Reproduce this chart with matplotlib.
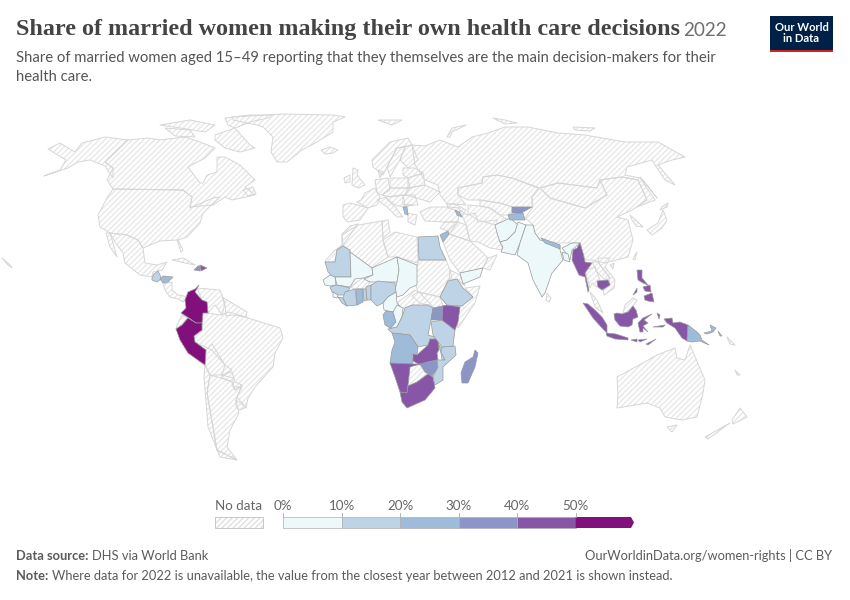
import matplotlib
matplotlib.use('Agg')
import matplotlib.pyplot as plt
from matplotlib.colors import BoundaryNorm, ListedColormap
from matplotlib.patches import Polygon, Rectangle

plt.rcParams['font.family'] = ['Lato', 'DejaVu Sans']
plt.rcParams['hatch.linewidth'] = 0.9

# legend
bin_edges = [0, 10, 20, 30, 40, 50, 60]
bin_labels = ['0%', '10%', '20%', '30%', '40%', '50%']
bin_colors = ['#edf8fb', '#bfd3e6', '#9ebcda', '#8c96c6', '#8856a7', '#810f7c']

# outlines traced from the map, in image pixels
# countries with a value
mauritania = [(325,262),(335,262),(337,250),(343,246),(350,250),(351,277),(333,277),(328,272)]
mali = [(350,252),(372,268),(373,275),(363,278),(355,279),(350,287),(337,285),(335,277),(351,277)]
niger = [(372,268),(397,257),(399,270),(397,282),(383,282),(370,282),(364,279),(373,275)]
chad = [(397,257),(417,265),(417,285),(410,288),(403,295),(397,297),(395,290),(397,282),(399,270)]
senegal = [(323,280),(330,275),(335,277),(336,285),(330,286),(325,285)]
guinea = [(330,287),(337,285),(350,288),(345,295),(338,295),(332,292)]
sierra_leone = [(333,292),(338,295),(337,298),(333,297)]
liberia = [(338,297),(343,298),(347,306),(342,303)]
ivory_coast = [(345,292),(355,289),(357,305),(347,306),(343,298)]
ghana = [(356,289),(363,289),(363,302),(357,305)]
togo = [(363,289),(366,289),(367,300),(364,301)]
benin = [(366,287),(371,285),(371,300),(367,300)]
nigeria = [(371,285),(378,281),(395,283),(396,292),(388,297),(383,303),(377,306),(371,300)]
cameroon = [(383,303),(388,297),(396,292),(397,303),(402,309),(393,312),(384,310)]
gabon = [(383,315),(386,311),(393,312),(396,322),(390,328),(385,325)]
congo = [(393,312),(397,305),(403,308),(402,317),(397,327),(390,329),(396,322)]
drc = [(405,308),(412,305),(428,305),(433,308),(431,320),(428,335),(438,338),(432,340),(428,345),(418,347),(410,335),(392,333),(388,329),(397,327),(402,317)]
angola = [(392,333),(410,335),(418,347),(417,355),(412,355),(413,364),(390,363),(392,350),(395,342)]
zambia = [(417,355),(428,345),(430,339),(438,339),(439,350),(437,353),(438,360),(428,362),(420,365),(413,361),(413,354)]
zimbabwe = [(420,364),(428,362),(437,360),(438,368),(432,376),(425,372)]
namibia = [(390,363),(413,364),(420,364),(410,367),(408,385),(407,393),(400,392),(395,377)]
south_africa = [(408,386),(417,382),(428,374),(433,377),(435,388),(425,400),(407,408),(402,402),(400,392),(407,393)]
malawi = [(438,343),(442,350),(445,360),(442,360),(441,353)]
mozambique = [(442,347),(455,346),(456,355),(443,367),(443,380),(435,385),(433,377),(438,367),(437,360),(445,360),(441,352)]
tanzania = [(431,322),(442,320),(455,330),(453,346),(442,347),(433,335)]
kenya = [(442,306),(447,305),(460,307),(458,322),(455,330),(442,320)]
uganda = [(433,308),(443,306),(442,320),(431,320)]
ethiopia = [(440,297),(448,281),(457,279),(463,288),(473,297),(462,306),(447,305)]
madagascar = [(475,350),(478,353),(475,367),(468,383),(462,383),(461,373),(465,362),(473,357)]
egypt = [(418,237),(438,236),(440,247),(446,260),(419,260)]
jordan = [(440,235),(448,231),(449,234),(443,242)]
armenia = [(455,210),(459,212),(462,217),(457,215)]
albania = [(403,207),(407,207),(408,215),(405,214)]
yemen = [(460,273),(483,268),(480,277),(463,284)]
afghanistan = [(495,225),(510,218),(518,225),(515,232),(507,240),(500,242),(497,233)]
pakistan = [(500,242),(507,240),(515,232),(518,222),(526,225),(520,243),(515,255),(501,252),(503,247)]
india = [(526,225),(533,225),(535,233),(540,240),(560,245),(560,250),(563,260),(552,273),(545,293),(542,297),(533,280),(528,263),(517,255),(520,243)]
india_east = [(562,248),(572,243),(580,243),(572,250),(570,260),(566,253)]
bangladesh = [(562,252),(568,254),(570,262),(564,260)]
nepal = [(541,238),(560,245),(560,249),(545,243)]
myanmar = [(580,243),(583,253),(585,262),(592,263),(585,273),(589,290),(588,292),(585,277),(579,275),(572,260),(573,250),(577,248)]
cambodia = [(597,281),(608,280),(610,285),(602,290),(598,287)]
kyrgyzstan = [(512,207),(532,207),(523,212),(522,213),(512,213)]
tajikistan = [(508,215),(513,214),(523,213),(525,220),(510,220)]
guatemala = [(152,278),(154,274),(158,271),(160,275),(161,279),(157,282),(152,280)]
honduras = [(160,279),(163,276),(173,277),(168,282),(163,283)]
haiti = [(194,270),(198,266),(200,266),(200,271)]
dominican = [(200,265),(207,268),(201,271)]
colombia = [(199,285),(195,289),(188,292),(185,300),(186,308),(181,313),(189,318),(196,323),(202,323),(203,313),(208,313),(207,302),(202,300),(195,292)]
peru = [(176,329),(182,325),(188,318),(196,323),(202,323),(202,330),(194,336),(195,342),(202,347),(206,350),(205,365),(202,363),(188,353),(180,340)]
sumatra = [(583,303),(588,304),(595,310),(602,317),(607,325),(607,333),(602,328),(593,318)]
java = [(606,333),(616,334),(628,338),(628,340),(615,339),(607,336)]
sunda_1 = [(631,340),(637,339),(637,342)]
sunda_2 = [(638,340),(647,339),(640,342)]
timor = [(646,344),(656,339),(648,345)]
borneo = [(614,314),(617,313),(622,314),(628,312),(633,306),(636,310),(638,317),(633,319),(632,325),(628,327),(620,326),(615,320)]
sulawesi = [(638,323),(643,318),(652,314),(644,320),(648,323),(643,326),(648,332),(643,328),(643,332),(640,332)]
maluku_1 = [(657,313),(660,315),(659,319)]
maluku_2 = [(653,327),(665,325),(663,327)]
papua = [(664,319),(672,318),(673,323),(680,322),(688,325),(687,341),(682,338),(675,328),(667,323)]
luzon = [(637,270),(642,270),(642,278),(648,285),(643,283),(638,280)]
visayas = [(643,287),(650,285),(651,292),(645,291)]
mindanao = [(644,296),(652,293),(654,302),(648,301),(645,300)]
palawan = [(633,295),(637,288),(637,292)]
png = [(688,325),(697,332),(700,335),(702,340),(709,345),(700,341),(692,342),(687,341)]
new_britain = [(704,333),(712,331),(710,325),(716,328),(713,332),(707,334)]
bougainville = [(718,331),(722,336),(720,336)]

share_shapes = [
    mauritania, mali, niger, chad, senegal, guinea, sierra_leone, liberia, ivory_coast, ghana,
    togo, benin, nigeria, cameroon, gabon, congo, drc, angola, zambia, zimbabwe, namibia,
    south_africa, malawi, mozambique, tanzania, kenya, uganda, ethiopia, madagascar, egypt,
    jordan, armenia, albania, yemen, afghanistan, pakistan, india, india_east, bangladesh,
    nepal, myanmar, cambodia, kyrgyzstan, tajikistan, guatemala, honduras, haiti, dominican,
    colombia, peru, sumatra, java, sunda_1, sunda_2, timor, borneo, sulawesi, maluku_1,
    maluku_2, papua, luzon, visayas, mindanao, palawan, png, new_britain, bougainville,
]
share_values = [
    14, 7, 6, 8, 8, 13, 9, 16, 15, 24,
    17, 14, 16, 9, 23, 8, 17, 25, 44, 33, 47,
    46, 18, 17, 16, 45, 35, 15, 36, 14,
    26, 28, 27, 6, 3, 7, 6, 6, 5,
    25, 48, 44, 36, 22, 15, 24, 34, 46,
    55, 56, 47, 47, 47, 47, 47, 47, 47, 47,
    47, 47, 44, 44, 44, 44, 25, 25, 25,
]

# countries without data
alaska = [(44,176),(60,170),(66,160),(61,157),(48,149),(60,143),(68,148),(75,152),(82,143),(105,137),(128,140),(105,162),(113,168),(113,178),(105,166),(90,160),(78,162),(68,168)]
canada = [(128,140),(148,138),(160,140),(185,137),(200,142),(215,148),(205,158),(188,167),(200,183),(203,183),(207,175),(217,172),(217,157),(225,157),(240,165),(255,180),(245,187),(255,195),(232,200),(225,197),(213,205),(190,207),(192,197),(183,190),(113,189),(107,180),(113,168),(105,162)]
baffin = [(215,135),(235,128),(250,145),(255,148),(240,152),(225,148),(215,140)]
ellesmere = [(225,118),(250,115),(272,115),(268,118),(250,122),(235,128),(228,125)]
victoria = [(165,128),(190,130),(195,137),(175,136)]
banks = [(160,125),(190,120),(215,125),(205,132),(180,128)]
newfoundland = [(243,190),(253,187),(256,194),(248,196)]
greenland = [(233,117),(283,114),(333,115),(345,117),(333,122),(333,132),(317,142),(302,150),(287,162),(277,162),(271,152),(273,137),(263,127),(257,125),(233,120)]
iceland = [(321,150),(330,147),(338,150),(333,153),(325,154)]
usa = [(113,189),(183,190),(192,197),(190,208),(213,198),(220,197),(203,213),(200,223),(187,237),(178,240),(183,250),(181,252),(177,240),(160,241),(143,248),(138,240),(127,235),(110,233),(100,227),(98,215),(107,198)]
mexico = [(110,233),(127,235),(138,240),(143,248),(145,263),(157,265),(167,262),(162,270),(153,272),(152,277),(140,275),(125,263),(123,253),(115,242)]
baja = [(106,233),(110,233),(117,257),(110,247)]
central_america = [(163,284),(172,282),(172,290),(178,295),(184,296),(187,298),(183,302),(178,299),(170,297),(165,290)]
cuba = [(172,260),(183,258),(195,265),(185,263)]
hawaii = [(2,258),(10,265),(12,268),(8,265)]
ecuador = [(177,325),(182,315),(188,318),(182,326),(176,329)]
venezuela = [(197,288),(220,290),(225,303),(222,315),(215,305),(208,313),(207,302),(202,300)]
guianas = [(222,297),(232,303),(247,312),(246,317),(232,315),(226,316),(225,305)]
brazil = [(208,313),(220,315),(230,312),(245,317),(248,318),(280,328),(283,338),(275,353),(273,367),(263,378),(255,387),(248,398),(246,408),(237,397),(242,387),(233,387),(233,378),(222,375),(225,365),(212,350),(205,347),(195,342),(194,336),(202,330),(203,313)]
bolivia = [(206,350),(212,344),(225,365),(232,370),(223,375),(210,375),(205,365)]
paraguay = [(222,375),(232,372),(235,382),(242,385),(235,390),(232,382),(222,378)]
chile = [(205,365),(210,375),(207,393),(217,450),(237,460),(220,457),(208,427),(204,377)]
argentina = [(210,375),(222,378),(232,382),(235,390),(242,385),(236,400),(239,413),(230,430),(227,447),(237,460),(217,450),(207,393)]
uruguay = [(236,400),(246,407),(240,410),(236,407)]
morocco = [(326,260),(334,251),(342,245),(342,234),(350,226),(358,224),(343,245),(337,250),(335,262),(325,262)]
algeria = [(343,245),(342,235),(358,225),(382,221),(383,240),(388,257),(372,268),(350,252)]
tunisia = [(382,221),(388,220),(390,232),(383,238)]
libya = [(383,240),(395,232),(417,237),(418,263),(397,257),(388,257)]
sudan = [(419,260),(446,260),(450,270),(452,278),(448,280),(440,297),(418,292),(415,283),(417,265)]
south_sudan = [(418,292),(440,297),(443,306),(433,308),(428,305),(420,303),(412,296)]
eritrea = [(450,270),(460,275),(465,286),(457,279),(449,280)]
somalia = [(465,288),(480,286),(475,303),(458,328),(457,321),(460,307),(473,297)]
burkina = [(350,287),(363,278),(370,282),(366,288),(355,289)]
car = [(398,302),(415,290),(420,293),(433,307),(412,305),(405,308),(400,311)]
botswana = [(410,366),(420,364),(425,372),(428,374),(417,382),(408,386)]
saudi = [(443,242),(449,234),(470,241),(480,250),(488,258),(483,268),(460,273),(450,260)]
oman = [(488,258),(497,255),(490,270),(483,268)]
syria = [(448,231),(440,228),(445,222),(458,222)]
iraq = [(449,234),(458,222),(466,225),(470,241)]
turkey = [(420,212),(430,207),(448,207),(460,208),(458,222),(445,222),(425,221)]
iran = [(460,210),(467,215),(475,213),(478,222),(497,220),(497,233),(500,242),(503,250),(490,248),(478,242),(470,241),(466,225)]
kazakhstan = [(458,188),(482,183),(483,177),(497,175),(512,178),(538,188),(532,197),(532,207),(512,207),(500,203),(480,200),(468,200),(458,195)]
uzbekistan = [(480,200),(500,203),(512,207),(512,213),(508,215),(500,215),(490,208),(480,206)]
turkmenistan = [(468,205),(480,206),(490,208),(500,215),(508,220),(495,225),(478,220),(468,214)]
caucasus = [(447,204),(455,204),(466,210),(462,216),(455,210),(448,208)]
mongolia = [(540,188),(558,183),(597,188),(600,180),(607,195),(585,208),(550,198)]
china = [(532,197),(540,188),(550,198),(585,208),(607,195),(600,180),(622,177),(638,180),(647,200),(632,210),(617,217),(628,220),(633,240),(628,257),(605,263),(592,260),(585,260),(580,243),(560,243),(540,240),(535,233),(533,225),(525,218),(533,207)]
russia = [(415,165),(412,145),(425,146),(440,140),(458,147),(472,137),(488,133),(505,127),(528,127),(558,133),(585,135),(625,142),(658,142),(685,157),(672,160),(658,165),(675,185),(665,180),(655,165),(652,160),(627,167),(625,175),(640,178),(655,200),(637,207),(647,200),(638,180),(622,177),(600,180),(597,188),(558,183),(540,188),(512,178),(497,175),(483,177),(482,183),(458,188),(458,195),(466,205),(455,204),(447,204),(440,195),(438,185),(425,180)]
novaya_zemlya = [(447,137),(452,128),(466,125),(452,132),(450,137)]
arctic_1 = [(493,118),(505,120),(517,123),(505,124)]
arctic_2 = [(573,127),(595,128),(590,131),(575,130)]
svalbard = [(378,120),(402,120),(392,125)]
spain = [(343,205),(350,203),(368,208),(360,220),(348,222),(343,217)]
france = [(361,200),(365,193),(375,188),(380,197),(377,205),(368,208),(357,202)]
uk = [(353,168),(358,170),(357,175),(365,185),(358,188),(352,185)]
ireland = [(344,178),(350,175),(350,182),(345,183)]
norway = [(372,160),(390,142),(408,138),(412,145),(397,148),(387,167),(383,175),(373,167)]
sweden = [(387,167),(397,148),(405,147),(400,160),(395,168),(390,177)]
finland = [(405,147),(412,145),(418,160),(408,168),(400,160)]
germany = [(375,180),(388,178),(390,190),(382,195),(377,193)]
poland = [(390,178),(408,178),(410,188),(390,188)]
belarus = [(408,178),(423,173),(425,185),(408,188)]
baltics = [(403,168),(415,168),(423,173),(408,178),(403,175)]
ukraine = [(408,188),(425,185),(440,192),(430,202),(413,197),(405,195)]
denmark = [(378,170),(383,172),(380,178)]
italy = [(377,200),(385,197),(395,207),(403,217),(397,217),(387,207)]
balkans = [(385,197),(403,195),(403,205),(410,205),(413,205),(405,207),(403,207),(395,205)]
romania = [(403,195),(415,195),(418,205),(405,205)]
greece = [(408,213),(417,215),(415,225),(408,222)]
central_europe = [(382,195),(390,188),(410,188),(405,195),(390,197)]
japan = [(647,230),(658,223),(663,210),(667,220),(662,228),(652,235)]
hokkaido = [(662,207),(668,203),(667,207),(660,210)]
sakhalin = [(640,177),(657,198),(647,185)]
korea = [(630,215),(638,222),(643,227),(636,226),(632,220)]
taiwan = [(633,259),(637,252),(635,260)]
hainan = [(610,265),(614,263),(613,269)]
sri_lanka = [(547,293),(551,298),(549,302),(546,300)]
thailand = [(585,270),(595,267),(600,280),(597,287),(592,283),(590,288)]
laos = [(592,262),(598,262),(610,278),(605,280),(597,272)]
vietnam = [(598,258),(610,258),(605,267),(615,280),(614,288),(604,295),(603,290),(610,285),(609,277),(600,265)]
malay_peninsula = [(590,292),(597,300),(603,313),(595,307)]
sarawak = [(623,313),(628,312),(633,306),(637,300),(633,298),(625,305)]
australia = [(617,377),(643,363),(657,355),(675,348),(677,358),(685,360),(690,345),(705,380),(703,393),(697,417),(682,420),(665,417),(660,408),(647,403),(617,408),(618,393)]
tasmania = [(667,427),(677,425),(672,432)]
nz_south = [(705,437),(730,423),(708,439)]
nz_north = [(732,420),(740,408),(747,417),(733,424)]
solomon = [(727,337),(735,345),(730,344)]
new_caledonia = [(735,370),(740,375),(737,375)]

no_data_shapes = [
    alaska, canada, baffin, ellesmere, victoria, banks, newfoundland, greenland, iceland, usa, mexico,
    baja, central_america, cuba, hawaii, ecuador, venezuela, guianas, brazil, bolivia, paraguay, chile,
    argentina, uruguay, morocco, algeria, tunisia, libya, sudan, south_sudan, eritrea, somalia, burkina,
    car, botswana, saudi, oman, syria, iraq, turkey, iran, kazakhstan, uzbekistan, turkmenistan,
    caucasus, mongolia, china, russia, novaya_zemlya, arctic_1, arctic_2, svalbard, spain, france, uk,
    ireland, norway, sweden, finland, germany, poland, belarus, baltics, ukraine, denmark, italy,
    balkans, romania, greece, central_europe, japan, hokkaido, sakhalin, korea, taiwan, hainan,
    sri_lanka, thailand, laos, vietnam, malay_peninsula, sarawak, australia, tasmania, nz_south,
    nz_north, solomon, new_caledonia,
]

fig = plt.figure(figsize=(8.5, 6), dpi=100)
ax = fig.add_axes([0, 0, 1, 1])
ax.set_xlim(0, 850)
ax.set_ylim(600, 0)
ax.axis('off')

# stripes first, then a separate outline on top so they can differ in colour
for shape in no_data_shapes:
    ax.add_patch(Polygon(shape, closed=True, facecolor='white', edgecolor='#e6e6e6',
                         hatch='//////', linewidth=0))
for shape in no_data_shapes:
    ax.add_patch(Polygon(shape, closed=True, fill=False, edgecolor='#d6d6d6',
                         linewidth=0.7, joinstyle='round', zorder=2))

cmap = ListedColormap(bin_colors)
norm = BoundaryNorm(bin_edges, cmap.N)
for shape, value in zip(share_shapes, share_values):
    ax.add_patch(Polygon(shape, closed=True, facecolor=cmap(norm(value)), edgecolor='#9a9a9a',
                         linewidth=0.5, joinstyle='round', zorder=3))

# title block
ax.text(16, 30, 'Share of married women making their own health care decisions',
        family=['Liberation Serif'], weight='bold', fontsize=17.4, color='#444444', va='center')
ax.text(683, 31, '2022', fontsize=13.6, color='#6e6e6e', va='center')
ax.text(16, 58, 'Share of married women aged 15–49 reporting that they themselves are the main decision-makers for their',
        fontsize=10.7, color='#555555', va='center')
ax.text(16, 77, 'health care.', fontsize=10.7, color='#555555', va='center')

# logo
ax.add_patch(Rectangle((770, 16), 63, 36, facecolor='#002147', edgecolor='none'))
ax.add_patch(Rectangle((770, 50), 63, 2, facecolor='#ce261e', edgecolor='none'))
ax.text(801.5, 33, 'Our World\nin Data', color='white', weight='bold', fontsize=8.1,
        ha='center', va='center', linespacing=1.05)

# legend
x0, x1 = 283.3, 634
scale = (575.7 - x0) / 50
ax.text(239, 506, 'No data', fontsize=9.6, color='#666666', ha='center', va='center')
ax.add_patch(Rectangle((215, 517), 48, 11, facecolor='white', edgecolor='#dddddd', hatch='//////', linewidth=0))
ax.add_patch(Rectangle((215, 517), 48, 11, fill=False, edgecolor='#c8c8c8', linewidth=0.7))
for i, label in enumerate(bin_labels):
    left = x0 + bin_edges[i] * scale
    right = x0 + bin_edges[i + 1] * scale
    if i < len(bin_labels) - 1:
        ax.add_patch(Rectangle((left, 517), right - left, 11, facecolor=bin_colors[i],
                               edgecolor='#b0b0b0', linewidth=0.5))
    else:
        ax.add_patch(Polygon([(left, 517), (x1 - 3, 517), (x1, 522.5), (x1 - 3, 528), (left, 528)],
                             closed=True, facecolor=bin_colors[i], edgecolor='none'))
    ax.plot([left, left], [513, 517], color='#a8a8a8', linewidth=0.6)
    ax.text(left, 506, label, fontsize=9.6, color='#666666', ha='center', va='center')

# footer
foot = 9.25
fig.canvas.draw()
r = fig.canvas.get_renderer()
src = ax.text(16, 556, 'Data source:', weight='bold', fontsize=foot, color='#5b5b5b', va='center')
bb = src.get_window_extent(r)
ax.text(bb.x1 + 3.5, 556, 'DHS via World Bank', fontsize=foot, color='#5b5b5b', va='center')
ax.text(832, 556, 'OurWorldinData.org/women-rights | CC BY', fontsize=foot, color='#5b5b5b', ha='right', va='center')
note = ax.text(16, 576, 'Note:', weight='bold', fontsize=foot, color='#5b5b5b', va='center')
bb = note.get_window_extent(r)
ax.text(bb.x1 + 3.5, 576, 'Where data for 2022 is unavailable, the value from the closest year between 2012 and 2021 is shown instead.',
        fontsize=foot, color='#5b5b5b', va='center')

fig.savefig('out.png', dpi=100)
